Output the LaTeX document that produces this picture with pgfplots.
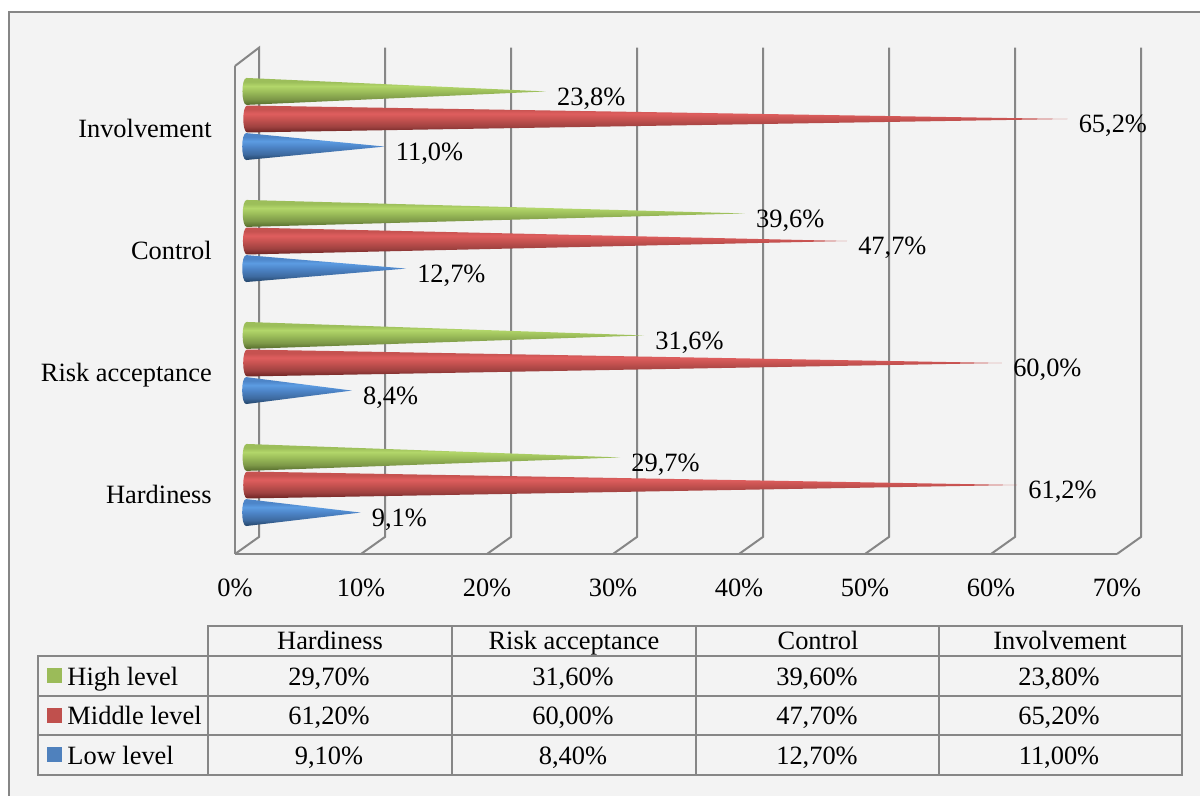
\documentclass[border=0pt]{standalone}
\usepackage{fontspec}
\setmainfont{Liberation Serif}
\usepackage{pgfplots}
\usepackage{pgfplotstable}
\pgfplotsset{compat=1.18}
\usetikzlibrary{shadings}

\definecolor{wall}{HTML}{868686}
\definecolor{panel}{HTML}{F3F3F3}
\definecolor{keyhigh}{HTML}{9BBB59}
\definecolor{keymid}{HTML}{C0504D}
\definecolor{keylow}{HTML}{4F81BD}
\definecolor{highdark}{HTML}{556B2C}
\definecolor{highlight}{HTML}{B2D66A}
\definecolor{highbase}{HTML}{9CBE5A}
\definecolor{middark}{HTML}{6B2422}
\definecolor{midlight}{HTML}{DF5E5E}
\definecolor{midbase}{HTML}{C65250}
\definecolor{lowdark}{HTML}{234468}
\definecolor{lowlight}{HTML}{5C9CE2}
\definecolor{lowbase}{HTML}{4D85C8}

\pgfdeclareverticalshading{conehigh}{100bp}{
  color(0bp)=(highdark); color(25bp)=(highdark); color(36bp)=(highbase!80!black);
  color(50bp)=(highbase); color(60bp)=(highlight); color(68bp)=(highbase); color(75bp)=(highbase); color(100bp)=(highbase)}
\pgfdeclareverticalshading{conemid}{100bp}{
  color(0bp)=(middark); color(25bp)=(middark); color(36bp)=(midbase!80!black);
  color(50bp)=(midbase); color(60bp)=(midlight); color(68bp)=(midbase); color(75bp)=(midbase); color(100bp)=(midbase)}
\pgfdeclareverticalshading{conelow}{100bp}{
  color(0bp)=(lowdark); color(25bp)=(lowdark); color(36bp)=(lowbase!80!black);
  color(50bp)=(lowbase); color(60bp)=(lowlight); color(68bp)=(lowbase); color(75bp)=(lowbase); color(100bp)=(lowbase)}

\pgfdeclareplotmark{nomark}{}

% cone with its tip on the data point, 12.58px per percent
\newcommand{\conemark}[1]{%
  \pgfscope
  \pgftransformshift{\pgfqpoint{8.25pt}{6pt}}%
  \dimen0=\rawv pt \dimen0=9.435\dimen0
  \edef\conelen{\the\dimen0}%
  \advance\dimen0 by 4pt
  \edef\conelenb{\the\dimen0}%
  \pgfpathmoveto{\pgfqpoint{0pt}{0pt}}%
  \pgfpathlineto{\pgfqpoint{-\conelen}{10.1pt}}%
  \pgfpathcurveto{\pgfqpoint{-\conelenb}{10.1pt}}{\pgfqpoint{-\conelenb}{-10.1pt}}{\pgfqpoint{-\conelen}{-10.1pt}}%
  \pgfpathclose
  \pgfshadepath{#1}{0}%
  \pgfusepath{discard}%
  \endpgfscope}

\pgfplotstableread{
cat high mid low
0 29.7 61.2 9.1
1 31.6 60.0 8.4
2 39.6 47.7 12.7
3 23.8 65.2 11.0
}\leveldata

\newcommand{\tablefont}{\fontsize{19.8}{24}\selectfont}
\pgfplotsset{
  cone series/.style={
    scatter, only marks, mark=nomark, forget plot,
    visualization depends on={rawx \as \rawv},
    scatter/@post marker code/.code={},
    point meta=x,
    nodes near coords={\pgfmathprintnumber[fixed,fixed zerofill,precision=1,use comma,assume math mode=true]{\pgfplotspointmeta}\%},
    every node near coord/.append style={anchor=base west,inner sep=0pt,xshift=16.5pt,yshift=-4.5pt,text=black,font=\tablefont},
  },
  wall line/.style={draw=wall,line width=1.5pt,forget plot,no marks},
}

\begin{document}
\begin{tikzpicture}
\path[use as bounding box] (0,0) rectangle (900pt,597pt);
\fill[white] (0,0) rectangle (900pt,597pt);
\begin{scope}[x=.75pt,y=-.75pt,yshift=597pt]
  \fill[panel] (9,796) rectangle (1200,12);
  \draw[wall,line width=1.5pt] (9,796) -- (9,12) -- (1200,12);
\end{scope}

\begin{axis}[
    at={(176.25pt,181.5pt)}, anchor=south west,
    scale only axis,
    width=661.5pt,
    height=366pt,
    clip=false,
    xmin=0, xmax=70,
    ymin=-0.5, ymax=3.5,
    axis lines*=left,
    axis line style={draw=wall,line width=1.5pt,-},
    major tick length=0pt,
    xtick={0,10,20,30,40,50,60,70},
    xticklabel={\pgfmathprintnumber{\tick}\%},
    ytick={0,1,2,3},
    yticklabels={Hardiness,Risk acceptance,Control,Involvement},
    /pgf/number format/assume math mode=true,
    tick label style={font=\tablefont,inner sep=0pt},
    xticklabel style={anchor=base,yshift=-32.25pt},
    yticklabel style={anchor=base east,xshift=-17.25pt,yshift=-8pt},
    legend style={
      at={(-0.2132,-0.220)},anchor=north west,
      draw=none,fill=none,inner sep=0pt,outer sep=0pt,
      row sep=0pt,
      nodes={inner sep=0pt,font=\tablefont,text height=18pt,text depth=11.6pt},
      column sep=4.5pt,
    },
    legend cell align=left,
    legend image code/.code={\fill[#1] (0pt,-1.25pt) rectangle (10.5pt,9.25pt);},
]

% walls, one polyline per gridline
\addplot[wall line] coordinates {(0,3.5)(1.905,3.65)(1.905,-0.36)(0,-0.5)};
\addplot[wall line] coordinates {(10,-0.5)(11.905,-0.36)(11.905,3.65)};
\addplot[wall line] coordinates {(20,-0.5)(21.905,-0.36)(21.905,3.65)};
\addplot[wall line] coordinates {(30,-0.5)(31.905,-0.36)(31.905,3.65)};
\addplot[wall line] coordinates {(40,-0.5)(41.905,-0.36)(41.905,3.65)};
\addplot[wall line] coordinates {(50,-0.5)(51.905,-0.36)(51.905,3.65)};
\addplot[wall line] coordinates {(60,-0.5)(61.905,-0.36)(61.905,3.65)};
\addplot[wall line] coordinates {(70,-0.5)(71.905,-0.36)(71.905,3.65)};

\addplot[cone series=low, scatter/@pre marker code/.code={\conemark{conelow}}]
  table[x=low, y expr=\coordindex-0.226] {\leveldata};
\addplot[cone series=mid, scatter/@pre marker code/.code={\conemark{conemid}}]
  table[x=mid, y expr=\coordindex] {\leveldata};
\addplot[cone series=high, scatter/@pre marker code/.code={\conemark{conehigh}}]
  table[x=high, y expr=\coordindex+0.226] {\leveldata};

\addlegendimage{keyhigh}\addlegendentry{High level}
\addlegendimage{keymid}\addlegendentry{Middle level}
\addlegendimage{keylow}\addlegendentry{Low level}
\end{axis}

% data table under the chart, coordinates in reference pixels
\begin{scope}[x=.75pt,y=-.75pt,yshift=597pt,line width=1.5pt,font=\tablefont,every node/.style={anchor=base,inner sep=0pt}]
  \draw[wall] (208,626) rectangle (1182,775);
  \draw[wall] (38,656) rectangle (208,775);
  \draw[wall] (208,656) -- (1182,656);
  \draw[wall] (38,696) -- (1182,696);
  \draw[wall] (38,735.5) -- (1182,735.5);
  \draw[wall] (452,626) -- (452,775);
  \draw[wall] (696,626) -- (696,775);
  \draw[wall] (939,626) -- (939,775);
  \node at (330,650) {Hardiness};
  \node at (574,650) {Risk acceptance};
  \node at (818,650) {Control};
  \node at (1060,650) {Involvement};
  \node at (329,686) {29,70\%};
  \node at (573,686) {31,60\%};
  \node at (817,686) {39,60\%};
  \node at (1059,686) {23,80\%};
  \node at (329,725) {61,20\%};
  \node at (573,725) {60,00\%};
  \node at (817,725) {47,70\%};
  \node at (1059,725) {65,20\%};
  \node at (329,765) {9,10\%};
  \node at (573,765) {8,40\%};
  \node at (817,765) {12,70\%};
  \node at (1059,765) {11,00\%};
\end{scope}
\end{tikzpicture}
\end{document}
